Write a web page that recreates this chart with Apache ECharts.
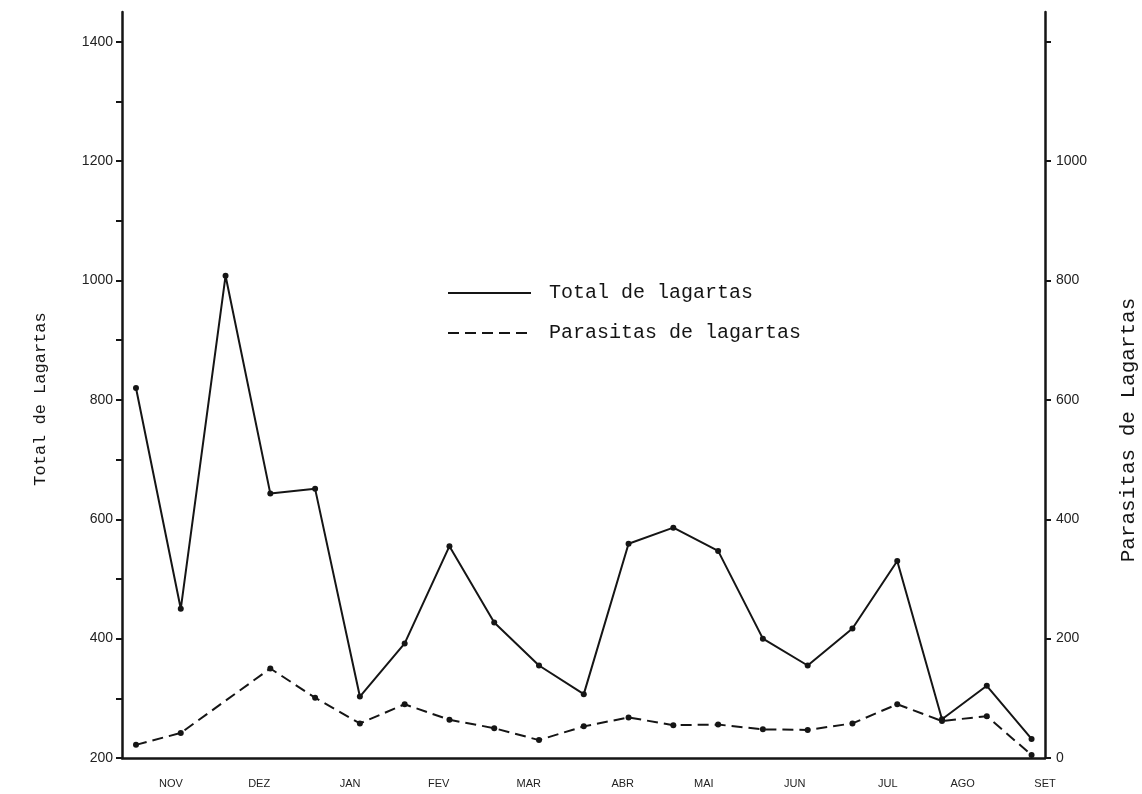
<!DOCTYPE html>
<html><head><meta charset="utf-8">
<script src="https://cdn.jsdelivr.net/npm/echarts@6/dist/echarts.min.js"></script>
<style>html,body{margin:0;padding:0;background:#fff}#c{width:1142px;height:794px}</style>
</head><body><div id="c"></div>
<script>
// sample index (two samples per month, Nov -> Set)
const sampleIdx = [0,1,2,3,4,5,6,7,8,9,10,11,12,13,14,15,16,17,18,19,20];
const totalLagartas = [820,450,1008,643,651,303,392,555,427,355,307,559,586,547,400,355,417,530,265,321,232];
const parasitasLagartas = [22,42,null,150,101,58,90,64,50,30,53,68,55,56,48,47,58,90,62,70,5];
const months = ['NOV','DEZ','JAN','FEV','MAR','ABR','MAI','JUN','JUL','AGO','SET'];
const monthPos = [0.78,2.75,4.78,6.76,8.77,10.87,12.68,14.71,16.79,18.46,20.3];
const leftTicks = [200,300,400,500,600,700,800,900,1000,1100,1200,1300,1400];
const leftLabels = [200,400,600,800,1000,1200,1400];
const rightTicks = [0,200,400,600,800,1000,1200];
const rightLabels = [0,200,400,600,800,1000];
const seriesNames = ['Total de lagartas','Parasitas de lagartas'];
const leftName = 'Total de Lagartas';
const rightName = 'Parasitas de Lagartas';

const ink = '#151515';
const chart = echarts.init(document.getElementById('c'));
const mono = '"Liberation Mono", "DejaVu Sans Mono", monospace';
const sans = '"Liberation Sans", Arial, sans-serif';
chart.setOption({
  animation: false,
  backgroundColor: '#fff',
  grid: {left: 122, right: 97, top: 12, bottom: 36},
  xAxis: {
    type: 'value', min: -0.3125, max: 20.3,
    splitLine: {show: false},
    axisLine: {onZero: false, lineStyle: {color: ink, width: 2.5}},
    axisTick: {show: false},
    axisLabel: {
      customValues: monthPos,
      formatter: v => { const i = monthPos.findIndex(p => Math.abs(p - v) < 1e-6); return i >= 0 ? months[i] : ''; },
      margin: 20, fontSize: 11, color: '#222', fontFamily: sans
    }
  },
  yAxis: [{
    type: 'value', min: 200, max: 1450, position: 'left',
    splitLine: {show: false},
    axisLine: {show: true, onZero: false, lineStyle: {color: ink, width: 2.5}},
    axisTick: {show: true, customValues: leftTicks, length: 6, lineStyle: {color: ink, width: 2}},
    axisLabel: {customValues: leftLabels, formatter: v => String(v), margin: 9, fontSize: 14, color: '#222', fontFamily: sans}
  }, {
    type: 'value', min: 0, max: 1250, position: 'right',
    splitLine: {show: false},
    axisLine: {show: true, onZero: false, lineStyle: {color: ink, width: 2.5}},
    axisTick: {show: true, customValues: rightTicks, length: 6, lineStyle: {color: ink, width: 2}},
    axisLabel: {customValues: rightLabels, formatter: v => String(v), margin: 11, fontSize: 14, color: '#222', fontFamily: sans}
  }],
  legend: {
    orient: 'vertical', left: 447, top: 283, padding: 0, itemWidth: 83, itemHeight: 14, itemGap: 20,
    itemStyle: {opacity: 0},
    textStyle: {fontFamily: mono, fontSize: 20, color: ink, padding: [0, 0, 0, 13]},
    data: seriesNames
  },
  graphic: [
    {type: 'text', x: 40, y: 399, rotation: Math.PI / 2,
     style: {text: leftName, font: '17px ' + mono, fill: ink, textAlign: 'center', textVerticalAlign: 'middle'}},
    {type: 'text', x: 1128, y: 430, rotation: Math.PI / 2,
     style: {text: rightName, font: '21px ' + mono, fill: ink, textAlign: 'center', textVerticalAlign: 'middle'}}
  ],
  series: [{
    name: seriesNames[0], type: 'line', yAxisIndex: 0,
    data: sampleIdx.map((x, i) => [x, totalLagartas[i]]),
    symbol: 'circle', symbolSize: 6,
    lineStyle: {color: ink, width: 2}, itemStyle: {color: ink}
  }, {
    name: seriesNames[1], type: 'line', yAxisIndex: 1, connectNulls: true,
    data: sampleIdx.map((x, i) => [x, parasitasLagartas[i]]),
    symbol: 'circle', symbolSize: 6,
    lineStyle: {color: ink, width: 2, type: [11, 6]}, itemStyle: {color: ink}
  }]
});
</script></body></html>
